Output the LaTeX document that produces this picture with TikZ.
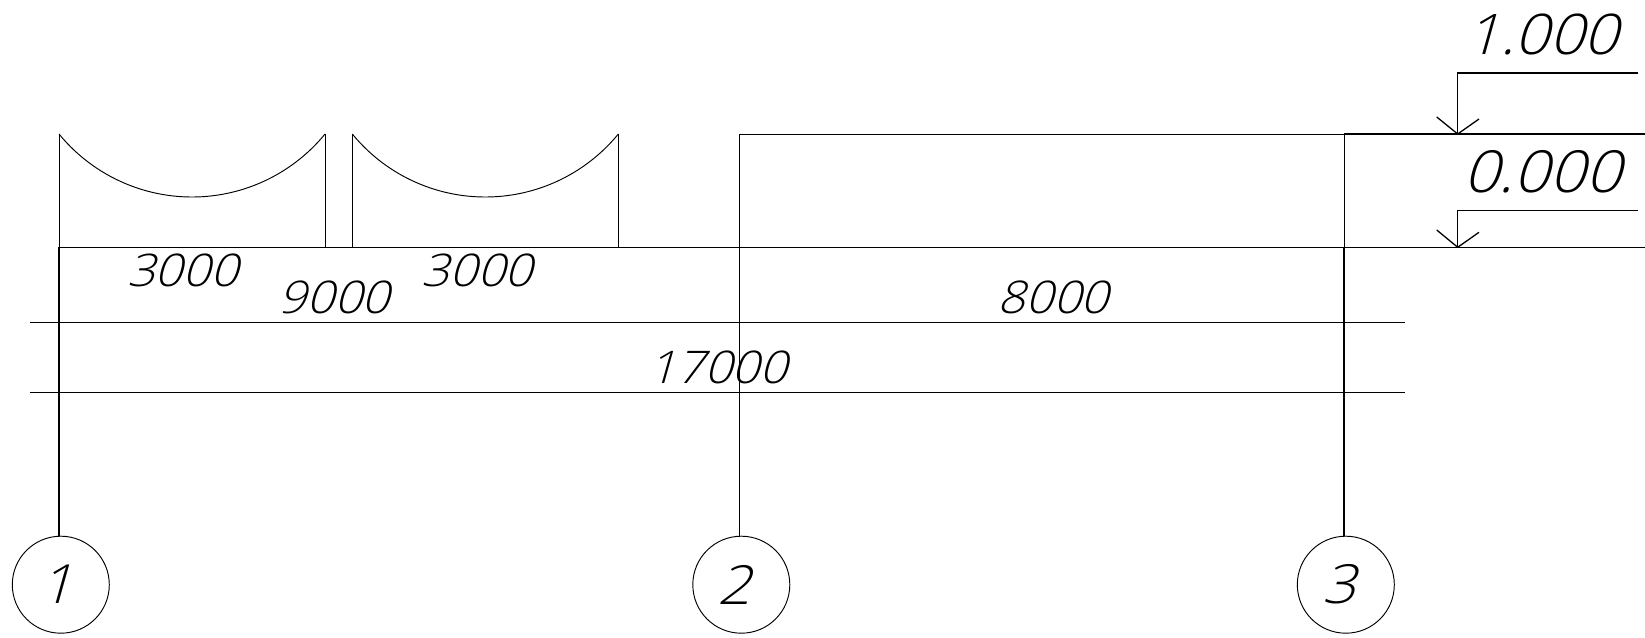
\documentclass[tikz,border=0pt]{standalone}
\usepackage{fontspec}
\newfontfamily\cadfont[FakeSlant=0.28,FakeStretch=1.08]{Open Sans Light}
\tikzset{
  ln/.style={line width=0.95pt,black},
  thick ln/.style={line width=1.3pt,black},
  dimtext/.style={inner sep=0pt,font=\cadfont\fontsize{45}{45}\selectfont},
  bigtext/.style={inner sep=0pt,font=\cadfont\fontsize{56}{56}\selectfont},
  widetext/.style={inner sep=0pt,font=\cadfont\fontsize{58}{58}\selectfont},
  axis/.style={ln,circle,draw,inner sep=0pt,minimum size=97pt,font=\cadfont\fontsize{54}{54}\selectfont}
}
\begin{document}
\begin{tikzpicture}[x=1pt,y=1pt]
\useasboundingbox (0,0) rectangle (1645,637);
% axis bubbles
\node[axis] (c1) at (60.8,52.3) {\kern-10pt 1};
\node[axis] (c2) at (741.3,52.3) {\kern-14pt 2};
\node[axis] (c3) at (1345.8,52.3) {\kern-14pt 3};
% reference points
\coordinate (b1) at (59,389.7);
\coordinate (t1) at (59,503);
\coordinate (t1r) at (325,503);
\coordinate (b1r) at (325,389.7);
\coordinate (t2l) at (352.3,503);
\coordinate (b2l) at (352.3,389.7);
\coordinate (t2r) at (618.3,503);
\coordinate (b2r) at (618.3,389.7);
\coordinate (t3) at (739.3,503);
\coordinate (b3) at (739.3,389.7);
\coordinate (t4) at (1344,503);
\coordinate (b4) at (1344,389.7);
\coordinate (er) at (1645,503);
\coordinate (gr) at (1645,389.7);
% roof and walls
\draw[ln] (t1) -- (b1) -- (gr);
\draw[ln] (t1r) -- (b1r);
\draw[ln] (t2l) -- (b2l);
\draw[ln] (t2r) -- (b2r);
\draw[ln] (t1) arc[start angle=219.3,end angle=320.7,radius=171.9pt];
\draw[ln] (t2l) arc[start angle=219.3,end angle=320.7,radius=171.9pt];
\draw[ln] (t3) -- (er);
\draw[thick ln] (t4) -- (er);
\draw[thick ln] (b4) -- (gr);
% grid lines to bubbles
\draw[thick ln] (b1) -- (b1 |- c1.north);
\draw[ln] (t3) -- (b3);
\draw[thick ln] (b3) -- (b3 |- c2.north);
\draw[ln] (t4) -- (b4);
\draw[thick ln] (b4) -- (b4 |- c3.north);
% dimension lines
\draw[ln] (30,314.7) -- (1405,314.7);
\draw[ln] (30,244.7) -- (1405,244.7);
% elevation markers
\coordinate (m1) at (1457.7,503);
\coordinate (m2) at (1457.7,389.7);
\draw[thick ln] (1638,564) -- (1457.7,564) -- (m1);
\draw[thick ln] (1436.7,520) -- (m1) -- (1479,518);
\draw[thick ln] (1638,426.7) -- (1457.7,426.7) -- (m2);
\draw[thick ln] (1436.7,407) -- (m2) -- (1479,404.7);
% labels
\node[dimtext] (d1) at (182.5,367) {3000};
\node[dimtext] (d2) at (334,340) {9000};
\node[dimtext] (d3) at (477,367) {3000};
\node[dimtext] (d4) at (718,270) {17000};
\node[dimtext] (d5) at (1053,340) {8000};
\node[bigtext] (e1) at (1542,603) {1.000};
\node[widetext] (e2) at (1542,465) {0.000};
\end{tikzpicture}
\end{document}
